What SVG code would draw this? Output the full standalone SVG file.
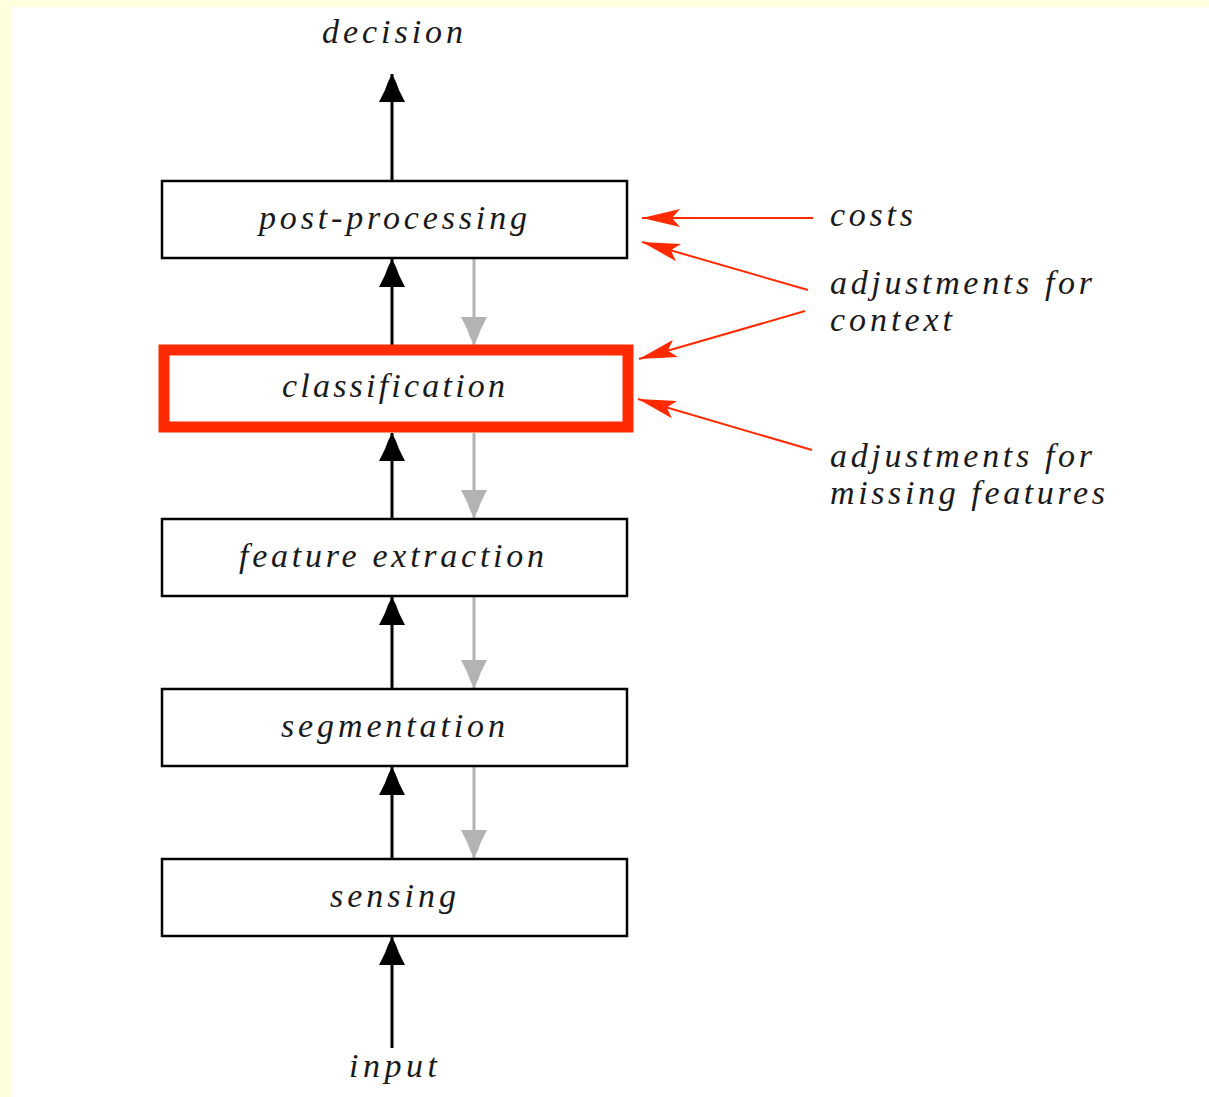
<svg xmlns="http://www.w3.org/2000/svg" width="1209" height="1097" viewBox="0 0 1209 1097">
<style>
.t{font-family:"Liberation Serif","Times New Roman",serif;font-style:italic;font-size:34px;fill:#1a1a1a}
.box{fill:#fff;stroke:#000;stroke-width:2.5}
.up{stroke:#000;stroke-width:3;fill:none;marker-end:url(#ab)}
.dn{stroke:#b3b3b3;stroke-width:3;fill:none;marker-end:url(#ag)}
.rd{stroke:#ff2a00;stroke-width:2;fill:none;marker-end:url(#ar)}
</style>
<defs>
<marker id="ab" markerUnits="userSpaceOnUse" viewBox="0 -13 28 26" refX="28" refY="0" markerWidth="28" markerHeight="26" orient="auto">
<path d="M28,0 L20,-4 L12,-7 L0,-13 L0,13 L12,7 L20,4 Z" fill="#000"/>
</marker>
<marker id="ag" markerUnits="userSpaceOnUse" viewBox="0 -13 28 26" refX="28" refY="0" markerWidth="28" markerHeight="26" orient="auto">
<path d="M28,0 L20,-4 L12,-7 L0,-13 L0,13 L12,7 L20,4 Z" fill="#b3b3b3"/>
</marker>
<marker id="ar" markerUnits="userSpaceOnUse" viewBox="0 -9 38 18" refX="38" refY="0" markerWidth="38" markerHeight="18" orient="auto">
<path d="M38,0 L0,-9 L8,0 L0,9 Z" fill="#ff2a00"/>
</marker>
</defs>
<rect x="0" y="0" width="1209" height="1097" fill="#ffffdd"/>
<rect x="11" y="7" width="1198" height="1090" fill="#fff"/>

<g id="connectors">
<line class="up" x1="392" y1="181" x2="392" y2="74"/>
<line class="up" x1="392" y1="345" x2="392" y2="259"/>
<line class="up" x1="392" y1="519" x2="392" y2="433"/>
<line class="up" x1="392" y1="689" x2="392" y2="597"/>
<line class="up" x1="392" y1="859" x2="392" y2="767"/>
<line class="up" x1="392" y1="1048" x2="392" y2="937"/>
<line class="dn" x1="474" y1="259" x2="474" y2="345"/>
<line class="dn" x1="474" y1="433" x2="474" y2="518"/>
<line class="dn" x1="474" y1="597" x2="474" y2="688"/>
<line class="dn" x1="474" y1="767" x2="474" y2="858"/>
<line class="rd" x1="813" y1="218" x2="642" y2="218"/>
<line class="rd" x1="808" y1="290" x2="642" y2="242"/>
<line class="rd" x1="805" y1="311" x2="639" y2="359"/>
<line class="rd" x1="812" y1="450" x2="638" y2="399"/>
</g>

<g id="decision"><text class="t" x="322" y="43" textLength="141" lengthAdjust="spacing">decision</text></g>
<g id="post-processing">
<rect class="box" x="162" y="181" width="465" height="77"/>
<text class="t" x="259" y="229" textLength="268" lengthAdjust="spacing">post-processing</text>
</g>
<g id="classification">
<rect x="164" y="350" width="464" height="77" fill="#fff" stroke="#ff2a00" stroke-width="11"/>
<text class="t" x="282" y="397" textLength="223" lengthAdjust="spacing">classification</text>
</g>
<g id="feature-extraction">
<rect class="box" x="162" y="519" width="465" height="77"/>
<text class="t" x="239" y="567" textLength="305" lengthAdjust="spacing">feature extraction</text>
</g>
<g id="segmentation">
<rect class="box" x="162" y="689" width="465" height="77"/>
<text class="t" x="281" y="737" textLength="224" lengthAdjust="spacing">segmentation</text>
</g>
<g id="sensing">
<rect class="box" x="162" y="859" width="465" height="77"/>
<text class="t" x="330" y="907" textLength="126" lengthAdjust="spacing">sensing</text>
</g>
<g id="input"><text class="t" x="349" y="1077" textLength="88" lengthAdjust="spacing">input</text></g>
<g id="costs"><text class="t" x="830" y="226" textLength="83" lengthAdjust="spacing">costs</text></g>
<g id="context">
<text class="t" x="830" y="294" textLength="262" lengthAdjust="spacing">adjustments for</text>
<text class="t" x="830" y="331" textLength="122" lengthAdjust="spacing">context</text>
</g>
<g id="missing">
<text class="t" x="830" y="467" textLength="262" lengthAdjust="spacing">adjustments for</text>
<text class="t" x="830" y="504" textLength="275" lengthAdjust="spacing">missing features</text>
</g>
</svg>
